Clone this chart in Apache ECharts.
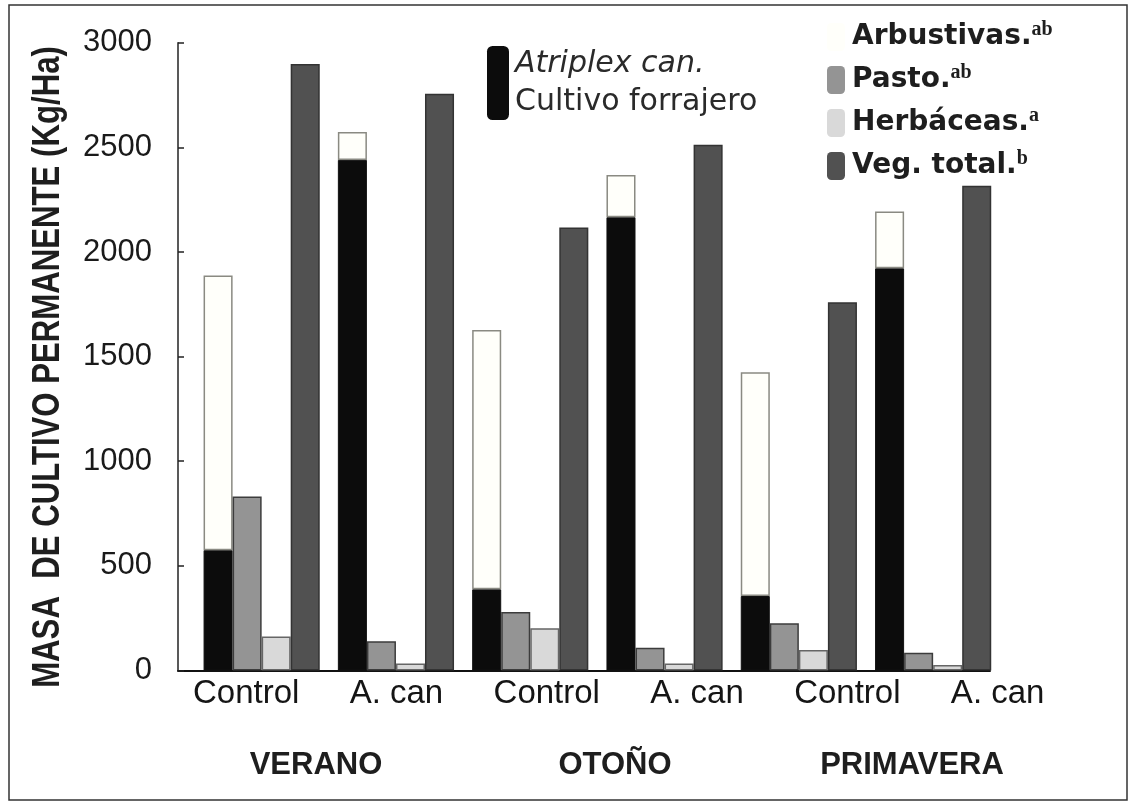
<!DOCTYPE html>
<html>
<head>
<meta charset="utf-8">
<script src="https://cdn.jsdelivr.net/npm/echarts@6/dist/echarts.min.js"></script>
<style>
  html, body { margin: 0; padding: 0; background: #ffffff; }
  #chart { width: 1136px; height: 810px; }
</style>
</head>
<body>
<div id="chart"></div>
<script>
// ---- data ----
const categories = ['Control', 'A. can', 'Control', 'A. can', 'Control', 'A. can'];
const seasons = ['VERANO', 'OTOÑO', 'PRIMAVERA'];
const atriplex   = [575, 2440, 388, 2166, 356, 1922];
const arbustivas = [1312, 133, 1239, 202, 1069, 271];
const pasto      = [831, 140, 280, 109, 226, 85];
const herbaceas  = [162, 34, 202, 33, 98, 26];
const vegTotal   = [2898, 2756, 2117, 2512, 1760, 2316];
const yMin = 0, yMax = 3000, yStep = 500;
const yTitle = 'MASA  DE CULTIVO PERMANENTE (Kg/Ha)';

const legendRight = [
  { name: 'Arbustivas', text: 'Arbustivas.', sup: 'ab' },
  { name: 'Pasto', text: 'Pasto.', sup: 'ab' },
  { name: 'Herbáceas', text: 'Herbáceas.', sup: 'a' },
  { name: 'Veg. total', text: 'Veg. total.', sup: 'b' }
];

const SANS = '"Liberation Sans", Arial, sans-serif';
const border = '#3c3c3c';

const chart = echarts.init(document.getElementById('chart'), null, { renderer: 'canvas' });

const seasonX = [316, 615, 912];

chart.setOption({
  backgroundColor: '#ffffff',
  animation: false,
  grid: [
    { left: 194.5, right: 135.7, top: 42.7, bottom: 139.5, outerBoundsMode: 'none', containLabel: false },
    { left: 171, right: 63.2, top: 42.7, bottom: 139.5, outerBoundsMode: 'none', containLabel: false },
    { left: 178, right: 146, top: 42.7, bottom: 139.5, outerBoundsMode: 'none', containLabel: false }
  ],
  xAxis: [
    { type: 'category', gridIndex: 0, data: categories,
      axisLine: { show: false }, axisTick: { show: false }, axisLabel: { show: false } },
    { type: 'category', gridIndex: 1, data: categories,
      axisLine: { show: false }, axisTick: { show: false },
      axisLabel: { interval: 0, fontFamily: SANS, fontSize: 33, color: '#151515', margin: 7, hideOverlap: false } },
    { type: 'category', gridIndex: 2, data: categories,
      axisLine: { show: true, lineStyle: { color: '#111', width: 2 } },
      axisTick: { show: false }, axisLabel: { show: false } }
  ],
  yAxis: [
    { type: 'value', gridIndex: 0, min: yMin, max: yMax, interval: yStep, offset: 16.5,
      axisLine: { show: true, lineStyle: { color: '#222', width: 1.5 } },
      axisTick: { show: true, inside: true, length: 6, lineStyle: { color: '#222', width: 1.5 } },
      splitLine: { show: false },
      axisLabel: { fontFamily: SANS, fontSize: 31, color: '#1a1a1a', margin: 26, formatter: (v) => String(v) } },
    { type: 'value', gridIndex: 1, show: false, min: yMin, max: yMax },
    { type: 'value', gridIndex: 2, show: false, min: yMin, max: yMax }
  ],
  legend: [
    {
      data: ['Cultivo forrajero'],
      left: 482, top: 41, itemWidth: 22, itemHeight: 74, selectedMode: false,
      itemStyle: { borderWidth: 0 },
      formatter: () => '{i|Atriplex can.}\n{n|Cultivo forrajero}',
      textStyle: {
        padding: [0, 0, 0, 1],
        rich: {
          i: { fontFamily: '"DejaVu Sans", sans-serif', fontStyle: 'italic', fontSize: 30, color: '#2a2a2a', lineHeight: 38 },
          n: { fontFamily: '"DejaVu Sans", sans-serif', fontSize: 30, color: '#2a2a2a', lineHeight: 38 }
        }
      }
    },
    {
      data: legendRight.map(d => d.name),
      orient: 'vertical', left: 822, top: 15, itemWidth: 18, itemHeight: 28, itemGap: 12,
      selectedMode: false,
      itemStyle: { borderWidth: 0 },
      formatter: (name) => {
        const d = legendRight.find(x => x.name === name);
        return '{t|' + d.text + '}{s|' + d.sup + '}';
      },
      textStyle: {
        padding: [0, 0, 0, 2],
        rich: {
          t: { fontFamily: '"DejaVu Sans", sans-serif', fontWeight: 'bold', fontSize: 28, color: '#1e1e1e' },
          s: { fontFamily: '"Liberation Serif", serif', fontWeight: 'bold', fontSize: 20, color: '#1e1e1e', padding: [0, 0, 14, 0] }
        }
      }
    }
  ],
  series: [
    { name: 'Cultivo forrajero', type: 'bar', stack: 'a', xAxisIndex: 0, yAxisIndex: 0,
      data: atriplex, barGap: '0%', barCategoryGap: '13.5%',
      itemStyle: { color: '#0c0c0c', borderColor: '#111', borderWidth: 1 } },
    { name: 'Arbustivas', type: 'bar', stack: 'a', xAxisIndex: 0, yAxisIndex: 0,
      data: arbustivas,
      itemStyle: { color: '#fffffa', borderColor: '#8a8a82', borderWidth: 1.5 } },
    { name: 'Pasto', type: 'bar', xAxisIndex: 0, yAxisIndex: 0, data: pasto,
      itemStyle: { color: '#949494', borderColor: border, borderWidth: 1.5 } },
    { name: 'Herbáceas', type: 'bar', xAxisIndex: 0, yAxisIndex: 0, data: herbaceas,
      itemStyle: { color: '#d9d9d9', borderColor: '#666', borderWidth: 1.5 } },
    { name: 'Veg. total', type: 'bar', xAxisIndex: 0, yAxisIndex: 0, data: vegTotal,
      itemStyle: { color: '#515151', borderColor: '#333', borderWidth: 1.5 } }
  ],
  graphic: [
    { type: 'rect', shape: { x: 9, y: 5, width: 1118, height: 795 }, silent: true,
      style: { fill: 'none', stroke: '#333', lineWidth: 1.5 } },
    { type: 'text', x: 49, y: 367, rotation: Math.PI / 2, scaleX: 0.82, silent: true,
      style: { text: yTitle, fontFamily: SANS, fontWeight: 'bold', fontSize: 38, fill: '#1e1e1e',
               textAlign: 'center', textVerticalAlign: 'middle' } }
  ].concat(seasons.map((s, i) => ({
    type: 'text', x: seasonX[i], y: 765, silent: true,
    style: { text: s, fontFamily: SANS, fontWeight: 'bold', fontSize: 31, fill: '#1e1e1e',
             textAlign: 'center', textVerticalAlign: 'middle' }
  })))
});
</script>
</body>
</html>
